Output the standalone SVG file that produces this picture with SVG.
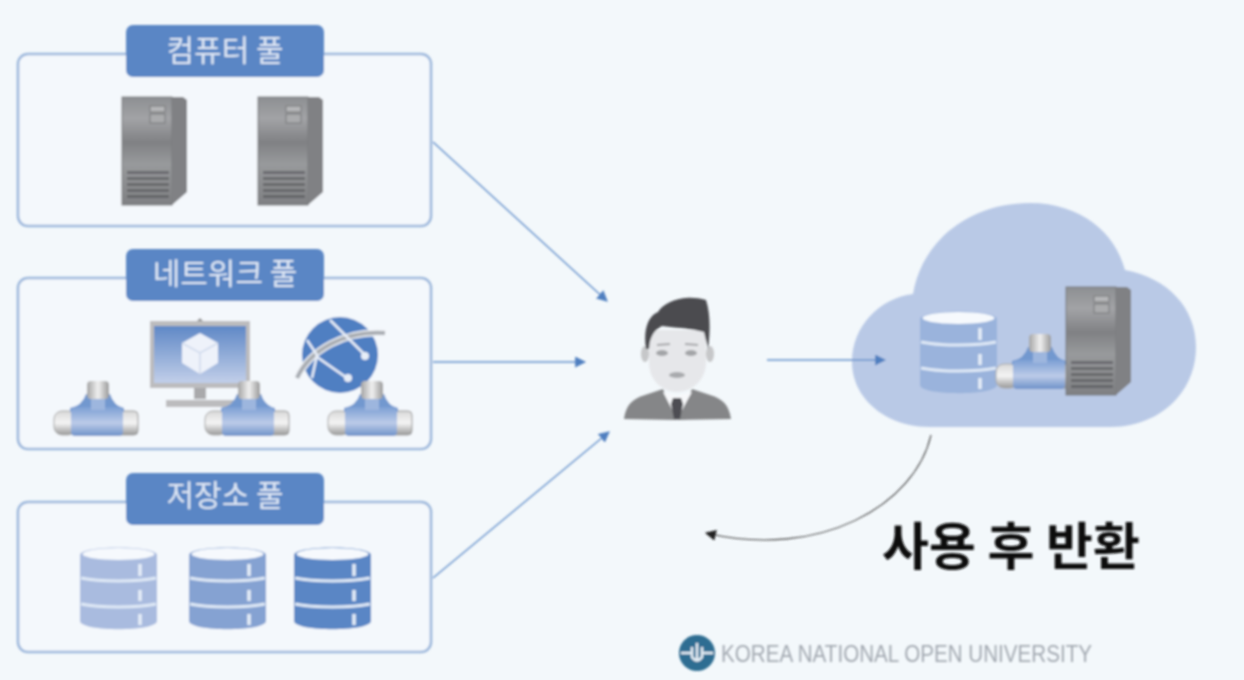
<svg xmlns="http://www.w3.org/2000/svg" width="1244" height="680" viewBox="0 0 1244 680">
<style>
.pool{fill:#f4f8fc;stroke:#9db8dc;stroke-width:2.600}
.tab{fill:#5a86c5}
.tabt{font-family:"Noto Sans CJK KR","Noto Sans",sans-serif;font-size:30px;font-weight:400;fill:#dfe8f5;text-anchor:middle}
.conn{fill:none;stroke:#6490cb;stroke-width:1.400}
.dbl{fill:none;stroke:#dfe9f6;stroke-width:3}
</style>
<defs>
<filter id="soft" x="-2%" y="-2%" width="104%" height="104%"><feGaussianBlur stdDeviation="0.9"/></filter>
<marker id="arr" viewBox="0 0 10 10" refX="9" refY="5" markerWidth="11" markerHeight="11" markerUnits="userSpaceOnUse" orient="auto"><path d="M0 0L10 5L0 10z" fill="#4f7fc0"/></marker>
<marker id="arrk" viewBox="0 0 10 10" refX="9" refY="5" markerWidth="11" markerHeight="11" markerUnits="userSpaceOnUse" orient="auto"><path d="M0 0L10 5L0 10z" fill="#222"/></marker>
<linearGradient id="srvF" x1="0" y1="0" x2="0" y2="1"><stop offset="0" stop-color="#8d8f92"/><stop offset=".2" stop-color="#a2a3a6"/><stop offset=".42" stop-color="#808184"/><stop offset=".62" stop-color="#989a9c"/><stop offset="1" stop-color="#7f8083"/></linearGradient>
<linearGradient id="steel" x1="0" y1="0" x2="1" y2="0"><stop offset="0" stop-color="#a4a4a4"/><stop offset=".5" stop-color="#f0f0f0"/><stop offset="1" stop-color="#9a9a9a"/></linearGradient>
<linearGradient id="steelV" x1="0" y1="0" x2="0" y2="1"><stop offset="0" stop-color="#d8d8d8"/><stop offset=".5" stop-color="#f4f4f4"/><stop offset="1" stop-color="#999"/></linearGradient>
<linearGradient id="pipe" x1="0" y1="0" x2="0" y2="1"><stop offset="0" stop-color="#7c9fd4"/><stop offset=".55" stop-color="#bccbe8"/><stop offset="1" stop-color="#6f92c9"/></linearGradient>
<linearGradient id="scr" x1="0" y1="0" x2="0" y2="1"><stop offset="0" stop-color="#5f88c6"/><stop offset="1" stop-color="#c2cfe9"/></linearGradient>
<g id="server">
<rect x="0" y="0" width="50" height="108" fill="url(#srvF)" stroke="#77787b"/>
<path d="M50 0H61L65 3V95L50 108Z" fill="#808184"/>
<rect x="28" y="9" width="15" height="6" fill="#b5b6b8" stroke="#77787b"/>
<rect x="28" y="17" width="15" height="9" fill="#aaabad" stroke="#77787b"/>
<g fill="#55565a" opacity=".65"><rect x="5" y="74" width="42" height="3"/><rect x="5" y="80" width="42" height="3"/><rect x="5" y="86" width="42" height="3"/><rect x="5" y="92" width="42" height="3"/><rect x="5" y="98" width="42" height="3"/></g>
</g>
<g id="tee">
<rect x="0" y="31" width="22" height="24" rx="8" fill="url(#steelV)" stroke="#aaa"/>
<rect x="62" y="31" width="22" height="24" rx="4" fill="url(#steelV)" stroke="#999"/>
<path d="M32 14H56Q60 26 70 28V32H16V28Q28 26 32 14Z" fill="#7298cf"/>
<rect x="17" y="27" width="52" height="29" rx="4" fill="url(#pipe)"/>
<rect x="37" y="18" width="14" height="12" fill="#9db6de"/>
<rect x="33" y="1" width="22" height="18" rx="4" fill="url(#steel)"/>
</g>
<g id="db">
<path d="M0 8C0 -2 77 -2 77 8V74C77 85 0 85 0 74Z"/>
<ellipse cx="38.500" cy="7" rx="36" ry="6" fill="#f6f9fd"/>
<path class="dbl" d="M1 31C20 35 57 35 76 31M1 57C20 61 57 61 76 57"/>
<path d="M60 17V29M60 43V54M60 67V78" stroke="#e6eef8" stroke-width="3.500" fill="none"/>
</g>
</defs>
<rect width="1244" height="680" fill="#f3f8fb"/>
<g filter="url(#soft)">
<g id="pool-computer">
<rect class="pool" x="18" y="54" width="413" height="172" rx="10"/>
<rect class="tab" x="126" y="25" width="198" height="52" rx="7"/>
<text class="tabt" x="225" y="61">컴퓨터 풀</text>
<use href="#server" x="122" y="97"/>
<use href="#server" x="258" y="97"/>
</g>
<g id="pool-network">
<rect class="pool" x="18" y="278" width="413" height="171" rx="10"/>
<rect class="tab" x="126" y="249" width="198" height="52" rx="7"/>
<text class="tabt" x="225" y="284">네트워크 풀</text>
<rect x="150" y="321" width="100" height="67" fill="#bcbcbe"/>
<path d="M197 321L200 318L203 321Z" fill="#8a8a8c"/>
<rect x="154" y="326" width="92" height="57" fill="url(#scr)"/>
<path d="M200 333L218 343V363L200 374L182 363V343Z" fill="#eef2fa"/>
<path d="M182 343L200 353L218 343M200 353V374" fill="none" stroke="#cfd9ec" stroke-width="1.500"/>
<rect x="194" y="388" width="12" height="11" fill="#a9a9ab"/>
<rect x="166" y="400" width="68" height="7" fill="#bcbcbe"/>
<circle cx="340" cy="355" r="38" fill="#4f7fc2"/>
<path d="M297 378C310 350 345 330 385 333" fill="none" stroke="#f0f3f7" stroke-width="7"/>
<path d="M297 378C310 350 345 330 385 333" fill="none" stroke="#a9adb3" stroke-width="4"/>
<path d="M330 320L365 355M307 340L317 355L312 378M317 357L347 378" fill="none" stroke="#e8eef8" stroke-width="2.500"/>
<circle cx="365" cy="356" r="4" fill="#e8eef8"/><circle cx="348" cy="378" r="4" fill="#e8eef8"/>
<use href="#tee" x="54" y="380"/>
<use href="#tee" x="205" y="380"/>
<use href="#tee" x="328" y="380"/>
</g>
<g id="pool-storage">
<rect class="pool" x="18" y="502" width="413" height="150" rx="10"/>
<rect class="tab" x="126" y="473" width="198" height="52" rx="7"/>
<text class="tabt" x="225" y="506">저장소 풀</text>
<use href="#db" x="80" y="547" fill="#a9bbdf"/>
<use href="#db" x="189" y="547" fill="#85a2d2"/>
<use href="#db" x="294" y="547" fill="#5a86c5"/>
</g>
<g id="user">
<path d="M624 419C626 405 632 399 645 395L663 389L677 420Z" fill="#858688"/>
<path d="M731 419C729 405 723 399 710 395L692 389L677 420Z" fill="#858688"/>
<path d="M663 392L677 419L692 392L677 396Z" fill="#f7f8fa"/>
<path d="M673 398H681L683 404L680 419H674L671 404Z" fill="#4d4e52"/>
<ellipse cx="645" cy="354" rx="4" ry="8" fill="#c6c7c9"/>
<ellipse cx="710" cy="354" rx="4" ry="8" fill="#c6c7c9"/>
<path d="M649 330H706V362C706 382 690 392 677 392C664 392 649 382 649 362Z" fill="#e6e7ea"/>
<path d="M646 349C643 330 648 316 658 312C665 301 685 294 706 300C711 315 710 335 708 349L704 332C690 328 675 328 662 326C655 330 650 335 649 349Z" fill="#4b4c50"/>
<ellipse cx="662" cy="353" rx="6" ry="3" fill="#a3a4a7"/>
<ellipse cx="691" cy="353" rx="6" ry="3" fill="#a3a4a7"/>
<path d="M657 345L670 344M685 344L698 345" stroke="#a5a6a9" stroke-width="2"/>
<ellipse cx="677" cy="375" rx="8" ry="3" fill="#a9aaad"/>
</g>
<g id="cloud">
<path d="M930 427C885 427 852 398 852 362C852 326 880 298 913 294C922 240 970 203 1030 203C1080 203 1115 232 1125 270C1168 278 1196 308 1196 347C1196 392 1160 427 1110 427Z" fill="#b9c9e6"/>
<use href="#db" x="920" y="311" fill="#9ab3dc"/>
<use href="#tee" x="996" y="333"/>
<use href="#server" x="1066" y="287"/>
</g>
<g id="connectors">
<path class="conn" marker-end="url(#arr)" d="M433 142L607 301"/>
<path class="conn" marker-end="url(#arr)" d="M433 362H585"/>
<path class="conn" marker-end="url(#arr)" d="M433 578L609 432"/>
<path class="conn" marker-end="url(#arr)" d="M767 360H885"/>
<path d="M931 435C915 505 820 560 706 533" fill="none" stroke="#444" stroke-width="1.100" marker-end="url(#arrk)"/>
</g>
<g id="return-label">
<text x="1011" y="565" font-family="'Noto Sans CJK KR','Noto Sans',sans-serif" font-size="51" font-weight="700" fill="#111" text-anchor="middle">사용 후 반환</text>
</g>
<g id="logo">
<circle cx="697" cy="653" r="18" fill="#2f6d92"/>
<path d="M681 653H691M703 653H713M697 643V661M692 647V657Q697 664 702 657V647" fill="none" stroke="#e6eef5" stroke-width="2.500"/>
<text x="721" y="662" font-family="'Liberation Sans',sans-serif" font-size="24" fill="#a3a9b1" textLength="371" lengthAdjust="spacingAndGlyphs">KOREA NATIONAL OPEN UNIVERSITY</text>
</g>
</g>
</svg>
